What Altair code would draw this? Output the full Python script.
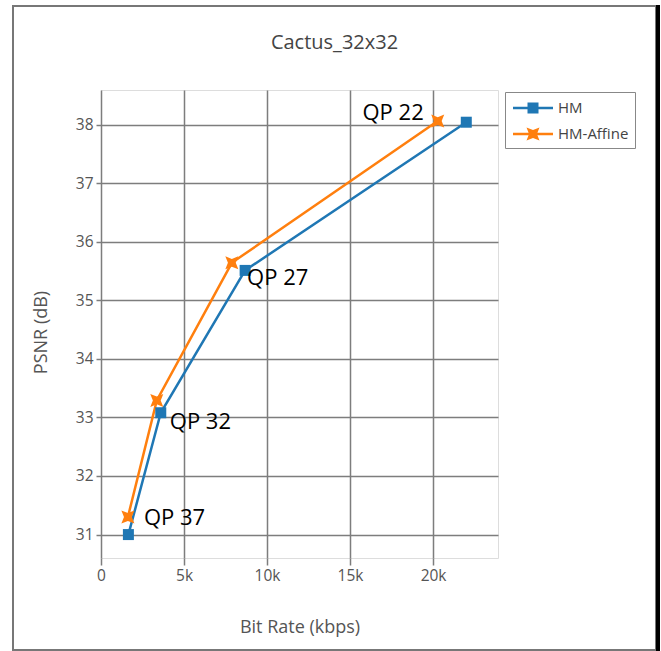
import altair as alt
import pandas as pd

# Rate-distortion points for each coder, one per QP
series_names = ["HM", "HM-Affine"]
series_colors = ["#1f77b4", "#ff7f0e"]
qp_values = [22, 27, 32, 37]
hm_rate = [22000, 8680, 3600, 1650]
hm_psnr = [38.04, 35.51, 33.08, 31.00]
affine_rate = [20280, 7880, 3360, 1620]
affine_psnr = [38.06, 35.64, 33.29, 31.30]

x_ticks = [0, 5000, 10000, 15000, 20000]
y_ticks = [31, 32, 33, 34, 35, 36, 37, 38]

rows = []
for name, rates, psnrs in [("HM", hm_rate, hm_psnr), ("HM-Affine", affine_rate, affine_psnr)]:
    for qp, r, p in zip(qp_values, rates, psnrs):
        rows.append({"series": name, "qp": qp, "rate": r, "psnr": p, "label": f"QP {qp}"})
df = pd.DataFrame(rows)

FONT = "Open Sans"
GRID = "#7d7d7d"

# marker outlines (unit square coordinates)
STAR = "M-1,-1L0,-0.6L1,-1L0.6,0L1,1L0,0.6L-1,1L-0.6,0Z"
# legend glyphs: a short line segment with the marker on top
LEG_LINE = "M-2,-0.125L2,-0.125L2,0.125L-2,0.125Z"
LEG_HM = LEG_LINE + "M-0.55,-0.55L0.55,-0.55L0.55,0.55L-0.55,0.55Z"
LEG_AFF = LEG_LINE + "M-0.65,-0.65L0,-0.39L0.65,-0.65L0.39,0L0.65,0.65L0,0.39L-0.65,0.65L-0.39,0Z"
marker_shapes = {"HM": "square", "HM-Affine": STAR}
marker_sizes = {"HM": 121, "HM-Affine": 170}

x_enc = alt.X(
    "rate:Q",
    scale=alt.Scale(domain=[0, 23910], nice=False, zero=False),
    axis=alt.Axis(
        values=x_ticks,
        labelExpr="datum.value == 0 ? '0' : (datum.value / 1000) + 'k'",
        grid=True, gridColor=GRID, gridWidth=1.5,
        domain=False, ticks=True, tickColor=GRID, tickSize=7, tickWidth=1.5,
        labelFont=FONT, labelFontSize=15.5, labelColor="#555555", labelPadding=3,
        labelFlush=False,
        title="Bit Rate (kbps)", titleFont=FONT, titleFontSize=18, titleFontWeight="normal",
        titleColor="#555555", titleX=198.5, titleY=69, titleBaseline="middle", titleAlign="center",
    ),
)
y_enc = alt.Y(
    "psnr:Q",
    scale=alt.Scale(domain=[30.6, 38.59], nice=False, zero=False),
    axis=alt.Axis(
        values=y_ticks,
        grid=True, gridColor=GRID, gridWidth=1.5,
        domain=False, ticks=True, tickColor=GRID, tickSize=5, tickWidth=1.5,
        labelFont=FONT, labelFontSize=15.5, labelColor="#555555", labelPadding=3,
        labelFlush=False,
        title="PSNR (dB)", titleFont=FONT, titleFontSize=18, titleFontWeight="normal",
        titleColor="#555555", titleX=-60, titleY=242, titleAngle=270,
        titleBaseline="middle", titleAlign="center",
    ),
)

base = alt.Chart(df)

series_layers = []
for name, col in zip(series_names, series_colors):
    sub = base.transform_filter(alt.datum.series == name)
    series_layers.append(sub.mark_line(strokeWidth=2.5, color=col).encode(x=x_enc, y=y_enc))
for name, col in zip(series_names, series_colors):
    sub = base.transform_filter(alt.datum.series == name)
    series_layers.append(
        sub.mark_point(shape=marker_shapes[name], filled=True, size=marker_sizes[name],
                       opacity=1, color=col)
        .encode(x=x_enc, y=y_enc)
    )

legend_spec = alt.Legend(
    title=None, orient="none", legendX=404, legendY=2,
    strokeColor="#888888", fillColor="white", padding=6, cornerRadius=0,
    labelFont=FONT, labelFontSize=15, labelColor="#444444", labelOffset=15,
    rowPadding=8, symbolSize=400, symbolOffset=12, symbolStrokeWidth=0, symbolOpacity=1,
)
legend_layer = base.transform_filter("false").mark_point(filled=True, opacity=1).encode(
    x=x_enc, y=y_enc,
    color=alt.Color("series:N", scale=alt.Scale(domain=series_names, range=series_colors),
                    legend=legend_spec),
    shape=alt.Shape("series:N", scale=alt.Scale(domain=series_names, range=[LEG_HM, LEG_AFF]),
                    legend=legend_spec),
)

# QP annotations: (qp, series the label sits next to, align, dx, dy)
label_specs = [
    (22, "HM-Affine", "right", -14, -8),
    (27, "HM", "left", 2, 8),
    (32, "HM", "left", 9, 9),
    (37, "HM-Affine", "left", 16, 1),
]
labels = []
for qp, ser, align, dx, dy in label_specs:
    labels.append(
        base.transform_filter((alt.datum.qp == qp) & (alt.datum.series == ser))
        .mark_text(font=FONT, fontSize=22, color="black", align=align, baseline="middle", dx=dx, dy=dy)
        .encode(x=x_enc, y=y_enc, text="label:N")
    )

# page border around the figure
one = pd.DataFrame({"k": [0]})
border = alt.Chart(one).mark_rect(fill="transparent", stroke="#777777", strokeWidth=2).encode(
    x=alt.value(-88), x2=alt.value(555), y=alt.value(-84), y2=alt.value(560)
)
border_right = alt.Chart(one).mark_rule(color="black", strokeWidth=4).encode(
    x=alt.value(557), y=alt.value(-85), y2=alt.value(561)
)

chart = alt.layer(
    border, border_right, *series_layers, legend_layer, *labels
).properties(
    width=397,
    height=468,
    autosize="none",
    padding={"left": 101, "top": 90, "right": 163, "bottom": 93},
    title=alt.Title(
        "Cactus_32x32", font=FONT, fontSize=20, fontWeight="normal", color="#444444",
        anchor="middle", frame="group", baseline="alphabetic", offset=0, dx=35, dy=66,
    ),
).configure_view(stroke=None).configure(background="white")

chart.save("out.html", embed_options={"renderer": "svg", "actions": False})
